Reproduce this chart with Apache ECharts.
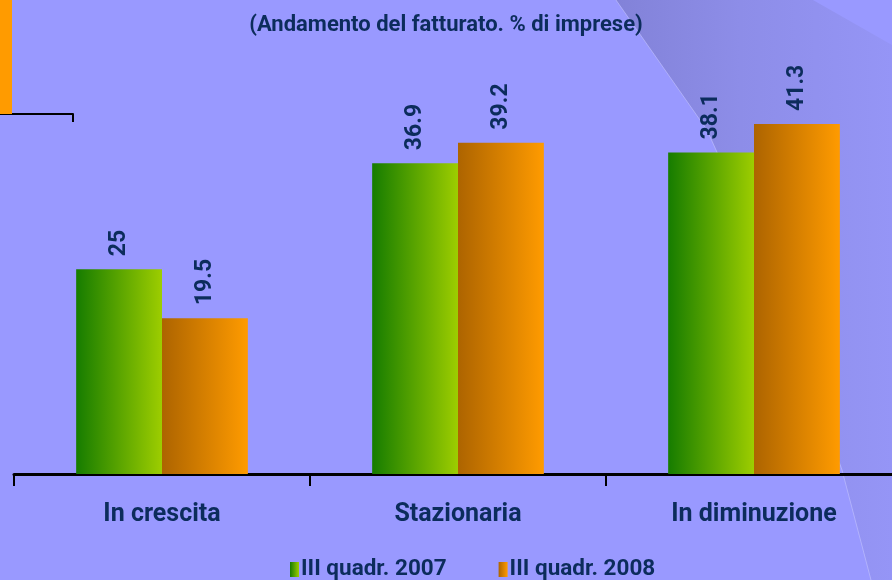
<!DOCTYPE html>
<html>
<head>
<meta charset="utf-8">
<script src="https://cdn.jsdelivr.net/npm/echarts@6/dist/echarts.min.js"></script>
<style>
html,body{margin:0;padding:0;background:#9999ff;}
#chart{width:892px;height:580px;}
</style>
</head>
<body>
<div id="chart"></div>
<script>
// ---- data ----
var titleText = '(Andamento del fatturato. % di imprese)';
var categories = ['In crescita', 'Stazionaria', 'In diminuzione'];
var seriesNames = ['III quadr. 2007', 'III quadr. 2008'];
var values2007 = [25, 36.9, 38.1];
var values2008 = [19.5, 39.2, 41.3];
// fragment of a neighbouring chart visible at top-left
var fragmentCategories = [''];
var fragmentValues = [1];

var navy = '#0c2c5c';
var font = 'Roboto';

var chart = echarts.init(document.getElementById('chart'), null, {renderer: 'canvas'});

var greenGrad = new echarts.graphic.LinearGradient(0, 0, 1, 0, [
  {offset: 0, color: '#167c00'},
  {offset: 1, color: '#9dcd00'}
]);
var orangeGrad = new echarts.graphic.LinearGradient(0, 0, 1, 0, [
  {offset: 0, color: '#ad6400'},
  {offset: 1, color: '#ff9b00'}
]);

var valueLabel = {
  show: true,
  position: 'top',
  rotate: 90,
  align: 'left',
  verticalAlign: 'middle',
  distance: 13,
  fontFamily: font,
  fontWeight: 'bold',
  fontSize: 23,
  color: navy
};

var option = {
  backgroundColor: '#9999ff',
  animation: false,
  graphic: [
    {
      type: 'polygon',
      silent: true,
      z: -10,
      shape: {points: [[616, 0], [813, 0], [892, 45], [892, 580], [871, 580], [842, 470], [770, 270], [707, 130]]},
      style: {
        fill: new echarts.graphic.LinearGradient(0, 0, 1, 0, [
          {offset: 0, color: '#8282d8'},
          {offset: 0.45, color: '#8d8de8'},
          {offset: 1, color: '#9595f6'}
        ])
      }
    },
    {
      type: 'polyline',
      silent: true,
      z: -9,
      shape: {points: [[616, 0], [707, 130], [770, 270], [842, 470], [871, 580]]},
      style: {stroke: 'rgba(200,200,255,0.55)', lineWidth: 1, fill: null}
    }
  ],
  title: {
    text: titleText,
    left: 'center',
    top: 9,
    textStyle: {fontFamily: font, fontWeight: 'bold', fontSize: 22, color: navy}
  },
  legend: {
    data: seriesNames,
    top: 553,
    left: 285,
    icon: 'rect',
    itemWidth: 9,
    itemHeight: 15,
    itemGap: 52,
    textStyle: {fontFamily: font, fontWeight: 'bold', fontSize: 22.5, color: navy, padding: [0, 0, 0, -3]}
  },
  grid: [
    {left: 14, width: 888, top: 91, height: 383, containLabel: false, outerBoundsMode: 'none'},
    {left: -100, width: 173, top: -20, height: 134, containLabel: false, outerBoundsMode: 'none'}
  ],
  xAxis: [
    {
      type: 'category',
      gridIndex: 0,
      data: categories,
      axisLine: {show: true, lineStyle: {color: '#000', width: 3}},
      axisTick: {show: true, interval: 0, alignWithLabel: false, length: 12, lineStyle: {color: '#000', width: 2}},
      axisLabel: {margin: 28, fontFamily: font, fontWeight: 'bold', fontSize: 25, color: navy}
    },
    {
      type: 'category',
      gridIndex: 1,
      data: fragmentCategories,
      axisLine: {show: true, lineStyle: {color: '#000', width: 2}},
      axisTick: {show: true, interval: 0, length: 8, lineStyle: {color: '#000', width: 2}},
      axisLabel: {show: false}
    }
  ],
  yAxis: [
    {type: 'value', gridIndex: 0, min: 2, max: 45, show: false},
    {type: 'value', gridIndex: 1, min: 0, max: 1, show: false}
  ],
  series: [
    {
      name: seriesNames[0],
      type: 'bar',
      xAxisIndex: 0, yAxisIndex: 0,
      data: values2007,
      barGap: '0%',
      barCategoryGap: '42%',
      itemStyle: {color: greenGrad},
      label: valueLabel
    },
    {
      name: seriesNames[1],
      type: 'bar',
      xAxisIndex: 0, yAxisIndex: 0,
      data: values2008,
      barGap: '0%',
      barCategoryGap: '42%',
      itemStyle: {color: orangeGrad},
      label: valueLabel
    },
    {
      type: 'bar',
      xAxisIndex: 1, yAxisIndex: 1,
      data: fragmentValues,
      barWidth: 51,
      silent: true,
      itemStyle: {color: '#ff9b00'}
    }
  ]
};
chart.setOption(option);
</script>
</body>
</html>
